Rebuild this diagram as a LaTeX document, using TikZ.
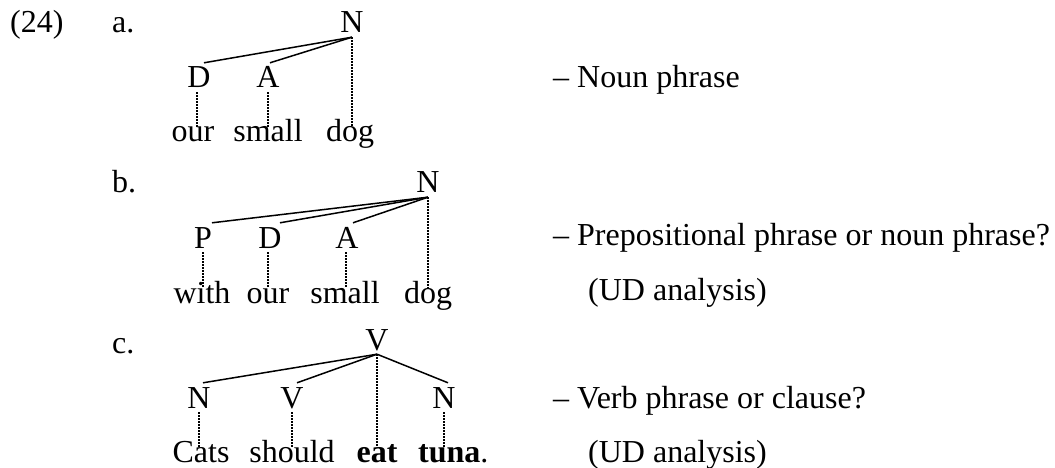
\documentclass[tikz,border=0pt]{standalone}
\usepackage{fontspec}
\setmainfont{Liberation Serif}
\begin{document}
\begin{tikzpicture}[x=1pt,y=-1pt,
  every node/.style={font=\fontsize{32}{38}\selectfont},
  cat/.style={anchor=base,inner xsep=0pt,inner ysep=4pt,text height=21pt,text depth=0pt},
  word/.style={anchor=base,inner sep=0pt,text height=15pt,text depth=0pt},
  lbl/.style={anchor=base west,inner sep=0pt},
  edge/.style={line width=1.5pt},
  proj/.style={line width=1.4pt,dash pattern=on 1.4pt off 1.6pt}]
\useasboundingbox (0,0) rectangle (1055,468);
% labels
\node[lbl] (n24) at (10,33) {(24)};
\node[lbl] (la) at (112,33) {a.};
\node[lbl] (lb) at (112,193) {b.};
\node[lbl] (lc) at (112,353) {c.};
% (a)
\node[cat] (aN) at (352,33) {N};
\node[cat] (aD) at (199,88) {D};
\node[cat] (aA) at (268,88) {A};
\node[word] (aw1) at (193,142) {our};
\node[word] (aw2) at (268,142) {small};
\node[word] (aw3) at (350,142) {dog};
\draw[edge] (aN.south) -- ([xshift=5pt]aD.north);
\draw[edge] (aN.south) -- ([xshift=2pt]aA.north);
\draw[proj] ([xshift=-2pt]aD.south) -- ([xshift=-2pt]aD.south |- aw1.north);
\draw[proj] (aA.south) -- (aA.south |- aw2.north);
\draw[proj] (aN.south) -- (aN.south |- aw3.north);
\node[lbl] (ta) at (553,88) {– Noun phrase};
% (b)
\node[cat] (bN) at (428,193) {N};
\node[cat] (bP) at (203,248) {P};
\node[cat] (bD) at (270,248) {D};
\node[cat] (bA) at (347,248) {A};
\node[word] (bw1) at (202,303) {with};
\node[word] (bw2) at (268,303) {our};
\node[word] (bw3) at (345,303) {small};
\node[word] (bw4) at (428,303) {dog};
\draw[edge] (bN.south) -- ([xshift=9pt]bP.north);
\draw[edge] (bN.south) -- ([xshift=10pt]bD.north);
\draw[edge] (bN.south) -- ([xshift=6pt]bA.north);
\draw[proj] (bP.south) -- (bP.south |- bw1.north);
\draw[proj] ([xshift=-2pt]bD.south) -- ([xshift=-2pt]bD.south |- bw2.north);
\draw[proj] ([xshift=-1pt]bA.south) -- ([xshift=-1pt]bA.south |- bw3.north);
\draw[proj] (bN.south) -- (bN.south |- bw4.north);
\node[lbl] (tb1) at (553,245) {– Prepositional phrase or noun phrase?};
\node[lbl] (tb2) at (588,300) {(UD analysis)};
% (c)
\node[cat] (cV) at (377,350) {V};
\node[cat] (cN1) at (199,408) {N};
\node[cat] (cV2) at (292,408) {V};
\node[cat] (cN3) at (444,408) {N};
\node[word] (cw1) at (201,462) {Cats};
\node[word] (cw2) at (292,462) {should};
\node[word] (cw3) at (377,462) {\textbf{eat}};
\node[word,anchor=base west] (cw4) at (418,462) {\textbf{tuna}.};
\draw[edge] (cV.south) -- ([xshift=4pt]cN1.north);
\draw[edge] (cV.south) -- ([xshift=5pt]cV2.north);
\draw[edge] (cV.south) -- ([xshift=4pt]cN3.north);
\draw[proj] (cN1.south) -- (cN1.south |- cw1.north);
\draw[proj] (cV2.south) -- (cV2.south |- cw2.north);
\draw[proj] (cV.south) -- (cV.south |- cw3.north);
\draw[proj] (cN3.south) -- (cN3.south |- cw4.north);
\node[lbl] (tc1) at (553,408) {– Verb phrase or clause?};
\node[lbl] (tc2) at (588,462) {(UD analysis)};
\end{tikzpicture}
\end{document}
